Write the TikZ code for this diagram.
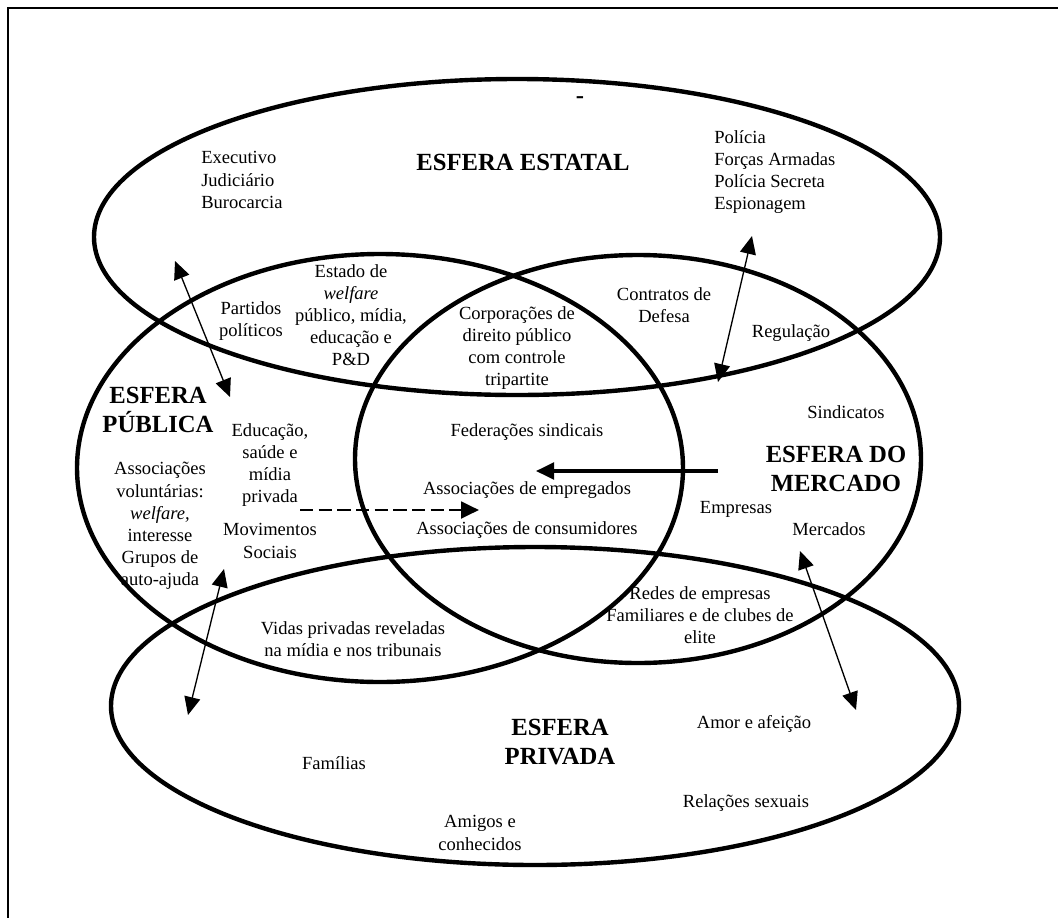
\documentclass[tikz,border=0pt]{standalone}
\usepackage{fontspec}
\setmainfont{Liberation Serif}
\usepackage{tikz}
\usetikzlibrary{arrows.meta}
\tikzset{
  sphere-line/.style={line width=3.3pt},
  frame-line/.style={line width=1.5pt},
  node-text/.style={align=center,inner sep=0pt,
    font=\fontsize{13.9}{16.6}\selectfont},
  node-list/.style={node-text,align=left,anchor=west},
  node-title/.style={align=center,inner sep=0pt,
    font=\fontsize{18.5}{21.8}\selectfont\bfseries},
  arrow-both/.style={{Triangle[length=13.5pt,width=12pt]}-{Triangle[length=13.5pt,width=12pt]},line width=1pt},
  arrow-flow/.style={-{Triangle[length=13.5pt,width=12.5pt]},line width=2.4pt},
  arrow-dashed/.style={-{Triangle[length=13.5pt,width=12.5pt]},line width=2.2pt,
    dash pattern=on 10pt off 4pt},
}
\begin{document}
\begin{tikzpicture}[x=0.75pt,y=-0.75pt]
  \useasboundingbox (0,0) rectangle (1058,918);
  \draw[frame-line] (8,930) -- (8,8) -- (1070,8);

  % esfera estatal
  \node[node-title] (estatal) at (523,162) {ESFERA ESTATAL};
  \node[node-title] (traco) at (580,100) {-};
  \node[node-list] (executivo) at (201,180) {Executivo\\Judiciário\\Burocarcia};
  \node[node-list] (policia) at (714,172) {Polícia\\Forças Armadas\\Polícia Secreta\\Espionagem};
  \node[node-text] (welfare) at (351,315) {Estado de\\\textit{welfare}\\público, mídia,\\educação e\\P\&D};
  \node[node-text] (partidos) at (251,321) {Partidos\\políticos};
  \node[node-text] (corporacoes) at (517,348) {Corporações de\\direito público\\com controle\\tripartite};
  \node[node-text] (contratos) at (664,305) {Contratos de\\Defesa};
  \node[node-text] (regulacao) at (791,333) {Regulação};

  % centro
  \node[node-text] (federacoes) at (527,432) {Federações sindicais};
  \node[node-text] (empregados) at (527,490) {Associações de empregados};
  \node[node-text] (consumidores) at (527,530) {Associações de consumidores};

  % esfera do mercado
  \node[node-text] (sindicatos) at (846,412) {Sindicatos};
  \node[node-title] (mercado) at (836,469) {ESFERA DO\\MERCADO};
  \node[node-text] (empresas) at (736,509) {Empresas};
  \node[node-text] (mercados) at (829,529) {Mercados};
  \node[node-text] (redes) at (700,615) {Redes de empresas\\Familiares e de clubes de\\elite};

  % esfera publica
  \node[node-title] (publica) at (158,410) {ESFERA\\PÚBLICA};
  \node[node-text] (educacao) at (270,465) {Educação,\\saúde e\\mídia\\privada};
  \node[node-text] (voluntarias) at (160,526) {Associações\\voluntárias:\\\textit{welfare,}\\interesse\\Grupos de\\auto-ajuda};
  \node[node-text] (movimentos) at (270,541) {Movimentos\\Sociais};
  \node[node-text] (vidas) at (353,639) {Vidas privadas reveladas\\na mídia e nos tribunais};

  % esfera privada
  \node[node-title] (privada) at (560,742) {ESFERA\\PRIVADA};
  \node[node-text] (amor) at (754,724) {Amor e afeição};
  \node[node-text] (familias) at (334,763) {Famílias};
  \node[node-text] (relacoes) at (746,803) {Relações sexuais};
  \node[node-text] (amigos) at (480,833) {Amigos e\\conhecidos};

  % as quatro esferas
  \draw[sphere-line] (517,237) ellipse [x radius=423,y radius=158];
  \draw[sphere-line] (380,468) ellipse [x radius=303,y radius=214];
  \draw[sphere-line] (638,459) ellipse [x radius=283,y radius=204];
  \draw[sphere-line] (535,706) ellipse [x radius=424,y radius=159];

  % pontas das setas
  \coordinate (e1) at (175,261);
  \coordinate (p1) at (230,397);
  \coordinate (e2) at (752,236);
  \coordinate (m2) at (718,382);
  \coordinate (m3) at (718,471);
  \coordinate (c3) at (536,471);
  \coordinate (p4) at (300,510);
  \coordinate (c4) at (479,510);
  \coordinate (p5) at (224,569);
  \coordinate (v5) at (188,715);
  \coordinate (m6) at (800,551);
  \coordinate (v6) at (856,710);

  \draw[arrow-both] (e1) -- (p1);
  \draw[arrow-both] (e2) -- (m2);
  \draw[arrow-flow] (m3) -- (c3);
  \draw[arrow-dashed] (p4) -- (c4);
  \draw[arrow-both] (p5) -- (v5);
  \draw[arrow-both] (m6) -- (v6);
\end{tikzpicture}
\end{document}
